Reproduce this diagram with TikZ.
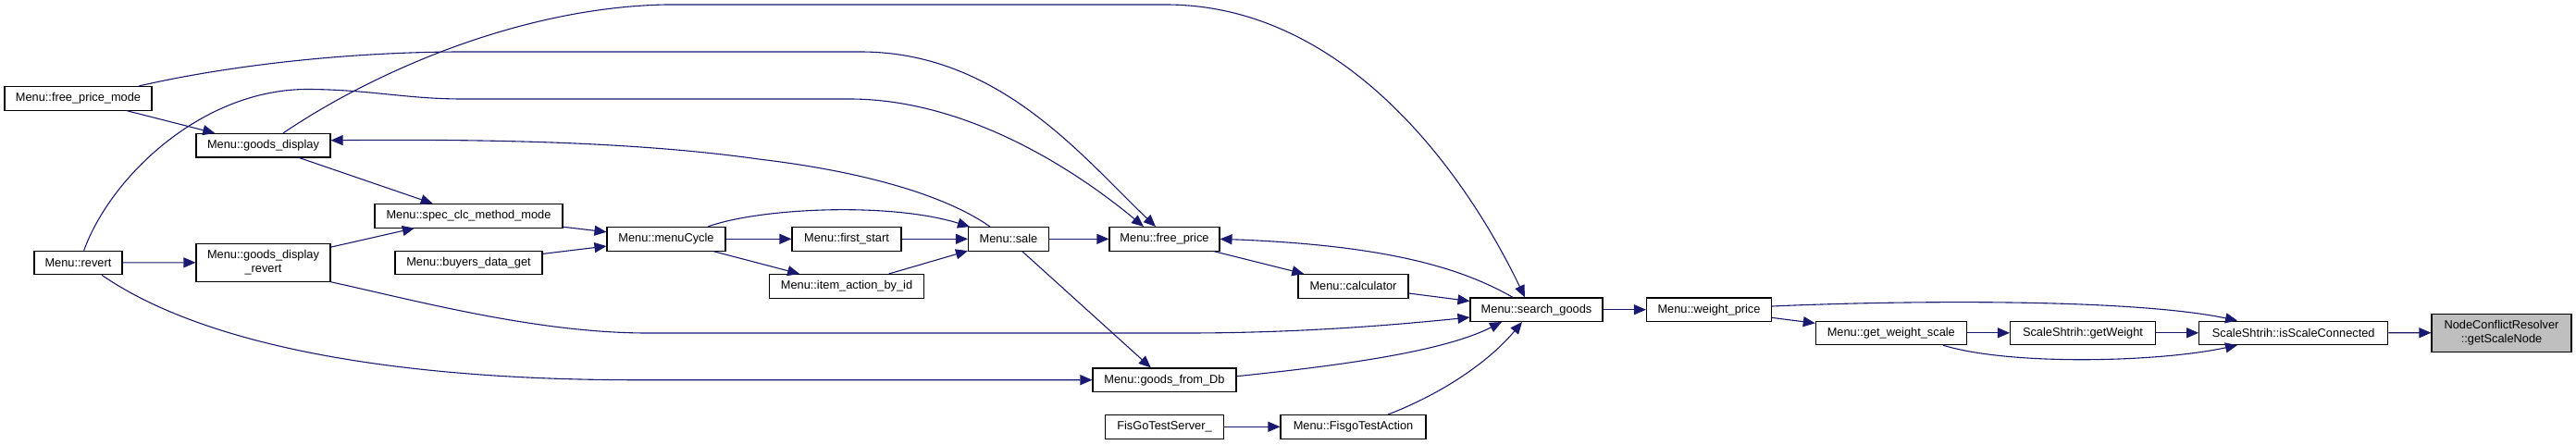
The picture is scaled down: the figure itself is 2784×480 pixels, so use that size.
\documentclass[tikz,border=0pt]{standalone}
\usepackage{fontspec}
\setmainfont{Liberation Sans}
\usetikzlibrary{arrows.meta}
\definecolor{edgec}{HTML}{191970}
\definecolor{greyfill}{HTML}{BFBFBF}
\begin{document}
\begin{tikzpicture}[x=1pt,y=-1pt,
  fn/.style={draw=black, line width=1.1pt, fill=white, inner sep=0pt,
    minimum height=25.5pt, font=\fontsize{12.8}{15}\selectfont, align=center},
  ed/.style={draw=edgec, line width=1.1pt, -{Triangle[length=13pt,width=11pt]}},
]
\useasboundingbox (0,0) rectangle (2784,480);
% nodes
\node[fn, minimum width=159pt] (fpm) at (84.5,106.3) {Menu::free\_price\_mode};
\node[fn, minimum width=145pt] (gd) at (284.5,157.2) {Menu::goods\_display};
\node[fn, minimum width=203pt] (spec) at (506.5,233.3) {Menu::spec\_clc\_method\_mode};
\node[fn, minimum width=159pt] (buy) at (506.5,284) {Menu::buyers\_data\_get};
\node[fn, minimum width=95pt] (rev) at (84.5,284) {Menu::revert};
\node[fn, minimum width=145pt, minimum height=41pt] (gdr) at (284.5,283.7) {Menu::goods\_display\\\_revert};
\node[fn, minimum width=128pt] (mc) at (720,258.3) {Menu::menuCycle};
\node[fn, minimum width=118pt] (fs) at (915,258.3) {Menu::first\_start};
\node[fn, minimum width=167pt] (ia) at (915,309.3) {Menu::item\_action\_by\_id};
\node[fn, minimum width=87pt] (sale) at (1090,258.3) {Menu::sale};
\node[fn, minimum width=119pt] (fp) at (1258.5,258.3) {Menu::free\_price};
\node[fn, minimum width=119pt] (calc) at (1462.5,309.3) {Menu::calculator};
\node[fn, minimum width=155pt] (gfd) at (1258.5,410.7) {Menu::goods\_from\_Db};
\node[fn, minimum width=128pt] (fts) at (1258.5,461.3) {FisGoTestServer\_};
\node[fn, minimum width=157pt] (fta) at (1462.5,461.3) {Menu::FisgoTestAction};
\node[fn, minimum width=143pt] (sg) at (1660.5,334.7) {Menu::search\_goods};
\node[fn, minimum width=135pt] (wp) at (1847,334.7) {Menu::weight\_price};
\node[fn, minimum width=163pt] (gws) at (2043.8,359.8) {Menu::get\_weight\_scale};
\node[fn, minimum width=157pt] (gw) at (2251,359.8) {ScaleShtrih::getWeight};
\node[fn, minimum width=204pt] (isc) at (2478.7,359.8) {ScaleShtrih::isScaleConnected};
\node[fn, minimum width=151pt, minimum height=41pt, fill=greyfill] (gsn) at (2703.5,359.7) {NodeConflictResolver\\::getScaleNode};
% straight edges
\draw[ed] (isc) -- (gsn);
\draw[ed] (gw) -- (isc);
\draw[ed] (gws) -- (gw);
\draw[ed] (wp) -- (gws);
\draw[ed] (sg) -- (wp);
\draw[ed] (calc) -- (sg);
\draw[ed] (fts) -- (fta);
\draw[ed] (fp) -- (calc);
\draw[ed] (sale) -- (fp);
\draw[ed] (fs) -- (sale);
\draw[ed] (ia) -- (sale);
\draw[ed] (mc) -- (fs);
\draw[ed] (mc) -- (ia);
\draw[ed] (spec) -- (mc);
\draw[ed] (buy) -- (mc);
\draw[ed] (gd) -- (spec);
\draw[ed] (gdr) -- (spec);
\draw[ed] (rev) -- (gdr);
\draw[ed] (fpm) -- (gd);
\draw[ed] (sale) -- (gfd);
% curved edges
\draw[ed] ([yshift=3.7pt]wp.east) .. controls (2050,325) and (2300,322) .. ([xshift=-60.7pt]isc.north);
\draw[ed] ([xshift=56pt]gws.south) .. controls (2170,395) and (2330,392) .. ([xshift=-60.7pt]isc.south);
\draw[ed] (gdr.south east) .. controls (450,325) and (580,360) .. (700,360) -- (1280,360)
  .. controls (1400,360) and (1500,352) .. ([yshift=-8.3pt]sg.west);
\draw[ed] ([yshift=4pt]gfd.east) .. controls (1450,395) and (1560,380) .. ([xshift=-37.5pt]sg.south);
\draw[ed] ([xshift=37.5pt]fta.north) .. controls (1560,425) and (1610,390) .. ([xshift=-15.5pt]sg.south);
\draw[ed] ([xshift=25.5pt]rev.south) .. controls (230,380) and (450,410) .. (680,410.7) -- (gfd.west);
\draw[ed] ([xshift=6.2pt]rev.north) .. controls (120,190) and (220,95) .. (335,96.5)
  .. controls (400,97) and (440,107) .. (500,107) -- (918,107)
  .. controls (1050,107) and (1170,190) .. ([xshift=-22.5pt]fp.north);
\draw[ed] ([xshift=65.5pt]fpm.north) .. controls (250,70) and (380,56) .. (500,56) -- (930,56)
  .. controls (1080,56) and (1170,170) .. ([xshift=-9.5pt]fp.north);
\draw[ed] ([xshift=21.5pt]gd.north) .. controls (400,80) and (560,8) .. (720,5) -- (1260,5)
  .. controls (1450,5) and (1580,180) .. ([xshift=-12.5pt]sg.north);
\draw[ed] ([xshift=-20pt]sale.north) .. controls (1020,210) and (930,185) .. (820,172)
  .. controls (700,155) and (550,150) .. ([yshift=5.5pt]gd.east);
\draw[ed] ([xshift=45pt]mc.north) .. controls (820,225) and (960,218) .. ([xshift=-42pt]sale.north);
\draw[ed] ([xshift=-25.5pt]sg.north) .. controls (1580,290) and (1500,265) .. (fp.east);
\end{tikzpicture}
\end{document}
